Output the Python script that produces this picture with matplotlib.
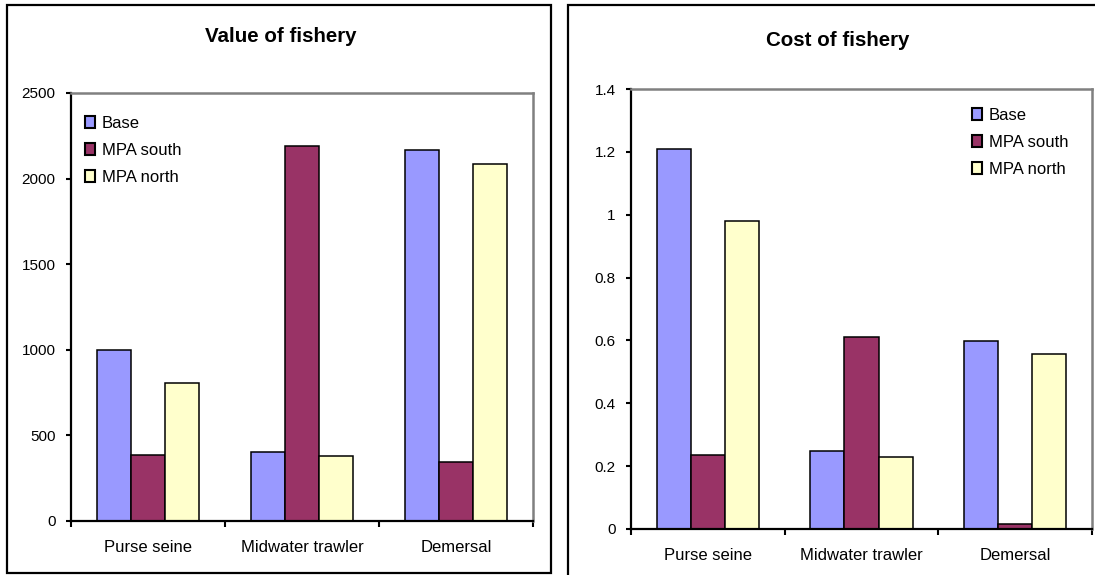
import matplotlib
matplotlib.use("Agg")
import matplotlib.pyplot as plt
from matplotlib.patches import Rectangle
import numpy as np

plt.rcParams['font.family'] = ['Liberation Sans', 'DejaVu Sans']

categories = ["Purse seine", "Midwater trawler", "Demersal"]
series_names = ["Base", "MPA south", "MPA north"]
colors = ["#9999FF", "#993366", "#FFFFCC"]

value_base = [1000, 405, 2168]
value_south = [387, 2190, 347]
value_north = [805, 382, 2088]

cost_base = [1.209, 0.247, 0.599]
cost_south = [0.236, 0.6125, 0.0175]
cost_north = [0.98, 0.229, 0.558]

value_ticks = [0, 500, 1000, 1500, 2000, 2500]
value_ticklabels = ["0", "500", "1000", "1500", "2000", "2500"]
cost_ticks = [0, 0.2, 0.4, 0.6, 0.8, 1.0, 1.2, 1.4]
cost_ticklabels = ["0", "0.2", "0.4", "0.6", "0.8", "1", "1.2", "1.4"]

W, H = 1095, 575
fig = plt.figure(figsize=(W / 100, H / 100), dpi=100)


def px_rect(x0, y0, x1, y1):
    return [x0 / W, 1 - y1 / H, (x1 - x0) / W, (y1 - y0) / H]


# panel borders
for (x0, y0, x1, y1) in [(7, 5, 551, 573), (568, 5, 1100, 580)]:
    fig.patches.append(Rectangle((x0 / W, 1 - y1 / H), (x1 - x0) / W, (y1 - y0) / H,
                                 transform=fig.transFigure, fill=False,
                                 edgecolor="black", linewidth=1.6, zorder=0))


def draw(ax, data, ticks, ticklabels, ymax, title, title_xy, legend_xy):
    n = len(categories)
    bw = 1 / 4.5
    for j, (vals, c, name) in enumerate(zip(data, colors, series_names)):
        xs = np.arange(n) + 0.5 + (j - 1) * bw
        ax.bar(xs, vals, width=bw, color=c, edgecolor="black", linewidth=1.1,
               label=name, zorder=2)
    ax.set_xlim(0, n)
    ax.set_ylim(0, ymax)
    ax.set_yticks(ticks)
    ax.set_yticklabels(ticklabels, fontsize=11)
    ax.set_xticks(np.arange(n + 1))
    ax.set_xticklabels([""] * (n + 1))
    ax.set_xticks(np.arange(n) + 0.5, minor=True)
    ax.set_xticklabels(categories, minor=True, fontsize=12)
    ax.tick_params(axis="x", which="minor", length=0, pad=13.5)
    ax.tick_params(axis="x", which="major", length=4, width=1.5, direction="out")
    ax.tick_params(axis="y", length=3.5, width=1.5, direction="out", pad=7.5)
    for s in ["top", "right"]:
        ax.spines[s].set_color("#808080")
        ax.spines[s].set_linewidth(1.8)
    for s in ["left", "bottom"]:
        ax.spines[s].set_color("black")
        ax.spines[s].set_linewidth(1.6)
    fig.text(title_xy[0] / W, 1 - title_xy[1] / H, title, ha="center", va="center",
             fontsize=14.8, fontweight="bold")
    leg = ax.legend(loc="upper left", bbox_to_anchor=(legend_xy[0] / W, 1 - legend_xy[1] / H),
                    bbox_transform=fig.transFigure, frameon=False, fontsize=12,
                    handlelength=0.6, handleheight=0.7, handletextpad=0.4,
                    labelspacing=0.72, borderpad=0, borderaxespad=0)
    for h in leg.legend_handles:
        h.set_linewidth(1.5)


ax1 = fig.add_axes(px_rect(71, 93, 533, 521))
draw(ax1, [value_base, value_south, value_north], value_ticks, value_ticklabels,
     2500, "Value of fishery", (281, 37), (85, 116))

ax2 = fig.add_axes(px_rect(631, 89, 1092, 529))
draw(ax2, [cost_base, cost_south, cost_north], cost_ticks, cost_ticklabels,
     1.4, "Cost of fishery", (838, 40), (972, 108))

fig.savefig("out.png", dpi=100)
